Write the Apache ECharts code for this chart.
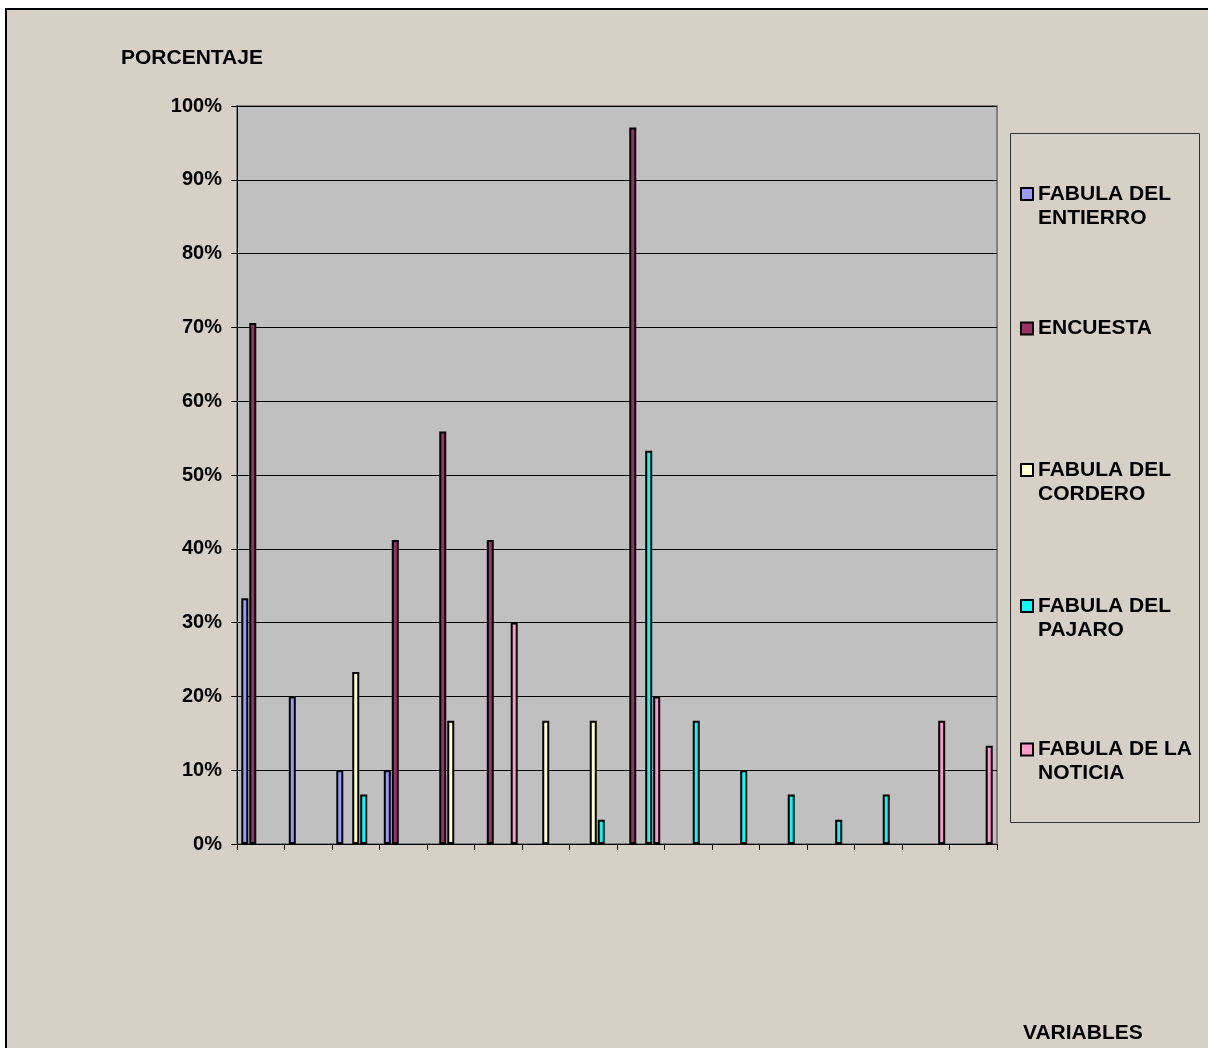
<!DOCTYPE html>
<html>
<head>
<meta charset="utf-8">
<script src="https://cdn.jsdelivr.net/npm/echarts@6/dist/echarts.min.js"></script>
<style>
  html, body { margin: 0; padding: 0; background: #ffffff; overflow: hidden; }
  #chart { position: absolute; left: 0; top: 0; width: 1208px; height: 1048px; }
</style>
</head>
<body>
<div id="chart"></div>
<script>
// ---- data ----
const categories = ['1','2','3','4','5','6','7','8','9','10','11','12','13','14','15','16'];
const seriesNames = ['FABULA DEL ENTIERRO', 'ENCUESTA', 'FABULA DEL CORDERO', 'FABULA DEL PAJARO', 'FABULA DE LA NOTICIA'];
const legendLabels = ['FABULA DEL\nENTIERRO', 'ENCUESTA', 'FABULA DEL\nCORDERO', 'FABULA DEL\nPAJARO', 'FABULA DE LA\nNOTICIA'];
const entierro = [33.3, 20, 10, 10, null, null, null, null, null, null, null, null, null, null, null, null];
const encuesta = [70.6, null, null, 41.2, 55.9, 41.2, null, null, 97.1, null, null, null, null, null, null, null];
const cordero  = [null, null, 23.3, null, 16.7, null, 16.7, 16.7, null, null, null, null, null, null, null, null];
const pajaro   = [null, null, 6.7, null, null, null, null, 3.3, 53.3, 16.7, 10, 6.7, 3.3, 6.7, null, null];
const noticia  = [null, null, null, null, null, 30, null, null, 20, null, null, null, null, null, 16.7, 13.3];
const yTicks = [0, 10, 20, 30, 40, 50, 60, 70, 80, 90, 100];
const yTitle = 'PORCENTAJE';
const xTitle = 'VARIABLES';

const colors = ['#9999ff', '#993366', '#ffffcc', '#00ffff', '#ff99cc'];
const values = [entierro, encuesta, cordero, pajaro, noticia];
const FONT = 'Liberation Sans, Arial, sans-serif';

const chart = echarts.init(document.getElementById('chart'), null, { renderer: 'canvas' });

// multi-line labels get a leading blank line so the first text line sits beside the icon
const legendTops = [158, 316.5, 434, 570, 713.5];
const legends = seriesNames.map((n, i) => {
  const multi = legendLabels[i].indexOf('\n') >= 0;
  return {
    data: [n],
    orient: 'vertical',
    left: 1020,
    top: legendTops[i],
    padding: 0,
    itemWidth: 12,
    itemHeight: 12,
    icon: 'rect',
    selectedMode: false,
    itemStyle: { borderColor: '#000', borderWidth: 2 },
    formatter: () => (multi ? '\n' : '') + legendLabels[i],
    textStyle: {
      fontFamily: FONT, fontSize: 21, fontWeight: 'bold', color: '#000', lineHeight: 24
    }
  };
});

const option = {
  animation: false,
  backgroundColor: '#ffffff',
  title: [
    { text: yTitle, left: 121, top: 48, padding: 0,
      textStyle: { fontFamily: FONT, fontSize: 21, fontWeight: 'bold', color: '#000' } },
    { text: xTitle, left: 1023, top: 1023, padding: 0,
      textStyle: { fontFamily: FONT, fontSize: 21, fontWeight: 'bold', color: '#000' } }
  ],
  legend: legends,
  graphic: [
    { type: 'rect', z: -100, left: 5, top: 8, silent: true,
      shape: { width: 1220, height: 1060 },
      style: { fill: '#d7d0c7', stroke: '#000', lineWidth: 2 } },
    { type: 'rect', left: 1010, top: 133,
      shape: { width: 189, height: 689 },
      style: { fill: 'transparent', stroke: '#333', lineWidth: 1 } }
  ],
  grid: {
    left: 237, right: 211, top: 106, bottom: 204,
    show: true, backgroundColor: '#c0c0c0', borderColor: '#808080', borderWidth: 2
  },
  xAxis: {
    type: 'category',
    data: categories,
    boundaryGap: true,
    axisLine: { lineStyle: { color: '#000', width: 1 } },
    axisTick: { show: true, length: 6, interval: 0, lineStyle: { color: '#000' } },
    axisLabel: { show: false },
    splitLine: { show: false }
  },
  yAxis: {
    type: 'value',
    min: yTicks[0], max: yTicks[yTicks.length - 1], interval: 10,
    axisLine: { show: true, lineStyle: { color: '#000', width: 1 } },
    axisTick: { show: true, length: 6, lineStyle: { color: '#000' } },
    axisLabel: { formatter: '{value}%', margin: 15, fontFamily: FONT, fontSize: 20, fontWeight: 'bold', color: '#000' },
    splitLine: { show: true, lineStyle: { color: '#000', width: 1 } }
  },
  series: seriesNames.map((n, i) => ({
    name: n,
    type: 'bar',
    data: values[i],
    barWidth: 7,
    barGap: '14%',
    itemStyle: { color: colors[i], borderColor: '#000', borderWidth: 2 }
  }))
};
chart.setOption(option);
</script>
</body>
</html>
